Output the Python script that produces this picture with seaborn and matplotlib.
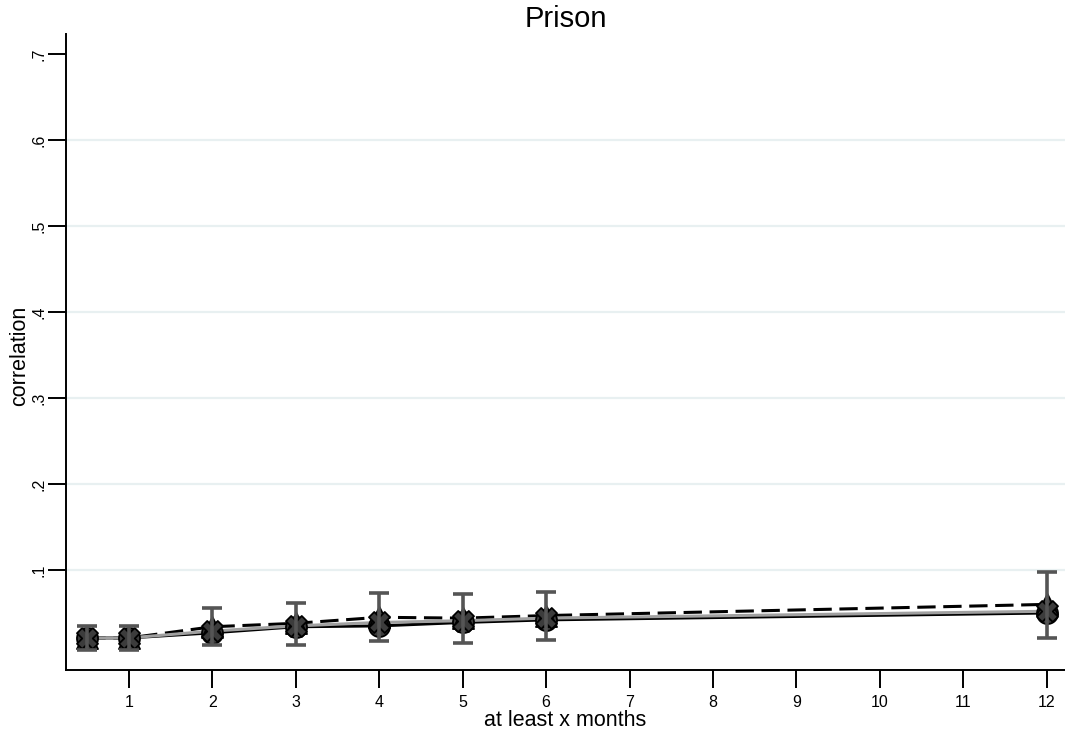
import matplotlib
matplotlib.use("Agg")
import matplotlib.pyplot as plt
import seaborn as sns
import pandas as pd
import numpy as np

months = [0.5, 1, 2, 3, 4, 5, 6, 12]
series_solid = [0.021, 0.021, 0.027, 0.034, 0.035, 0.039, 0.042, 0.050]
series_dashed = [0.021, 0.021, 0.034, 0.038, 0.045, 0.044, 0.047, 0.060]
series_gray = [0.021, 0.021, 0.029, 0.035, 0.039, 0.041, 0.044, 0.052]
ci_low = [0.007, 0.007, 0.013, 0.013, 0.017, 0.015, 0.019, 0.021]
ci_high = [0.035, 0.035, 0.056, 0.062, 0.073, 0.072, 0.074, 0.098]
x_ticks = [1, 2, 3, 4, 5, 6, 7, 8, 9, 10, 11, 12]
y_ticks = [0.1, 0.2, 0.3, 0.4, 0.5, 0.6, 0.7]
y_tick_labels = [".1", ".2", ".3", ".4", ".5", ".6", ".7"]

sns.set_theme(style="white")
plt.rcParams['font.family'] = ['Liberation Sans', 'DejaVu Sans']
plt.rcParams['text.color'] = 'black'
plt.rcParams['axes.labelcolor'] = 'black'
plt.rcParams['xtick.color'] = 'black'
plt.rcParams['ytick.color'] = 'black'

df = pd.DataFrame({
    "months": months * 3,
    "corr": series_solid + series_dashed + series_gray,
    "series": ["solid"] * len(months) + ["dashed"] * len(months) + ["gray"] * len(months),
})

fig = plt.figure(figsize=(10.65, 7.43), dpi=100)
ax = fig.add_axes([66 / 1065, (743 - 670) / 743, 999 / 1065, 636 / 743])

# gridlines
for yv in y_ticks[:-1]:
    ax.axhline(yv, color="#e8f0f1", lw=1.6, zorder=0)

palette = {"solid": "black", "dashed": "black", "gray": "#a0a0a0"}
dashes = {"solid": "", "dashed": (6, 2.5), "gray": ""}
sns.lineplot(data=df, x="months", y="corr", hue="series", style="series",
             palette=palette, dashes=dashes, hue_order=["solid", "dashed", "gray"],
             linewidth=2.2, legend=False, ax=ax, zorder=2, estimator=None)

# markers
marker_map = {"solid": "o", "dashed": "^", "gray": "X"}
for name, vals in [("solid", series_solid), ("dashed", series_dashed), ("gray", series_gray)]:
    ax.scatter(months, vals, marker=marker_map[name], s=230, facecolor="#3c3c3c",
               edgecolor="black", linewidth=1.3, zorder=3)

# confidence intervals
mid = np.array(series_gray)
ax.errorbar(months, mid, yerr=[mid - np.array(ci_low), np.array(ci_high) - mid],
            fmt="none", ecolor="#555555", elinewidth=2.6, capsize=7, capthick=2.6, zorder=4)

ax.set_xlim(0.244, 12.22)
ax.set_ylim(-0.0163, 0.7233)
ax.set_xticks(x_ticks)
ax.set_xticklabels([str(v) for v in x_ticks], fontsize=11.5)
ax.set_yticks(y_ticks)
ax.set_yticklabels(y_tick_labels, fontsize=11.5, rotation=90, va="center")

for s in ["top", "right"]:
    ax.spines[s].set_visible(False)
for s in ["left", "bottom"]:
    ax.spines[s].set_color("black")
    ax.spines[s].set_linewidth(1.4)
ax.tick_params(axis="both", direction="out", length=13, width=1.4, color="black",
               bottom=True, left=True)
ax.tick_params(axis="x", pad=5)
ax.tick_params(axis="y", pad=1)

ax.set_xlabel("at least x months", fontsize=15.5, labelpad=0)
ax.set_ylabel("")
fig.text(20 / 1065, 1 - 356 / 743, "correlation", fontsize=15.5, rotation=90,
         ha="center", va="center")
ax.set_title("Prison", fontsize=21, pad=5)

fig.savefig("out.png", dpi=100)
